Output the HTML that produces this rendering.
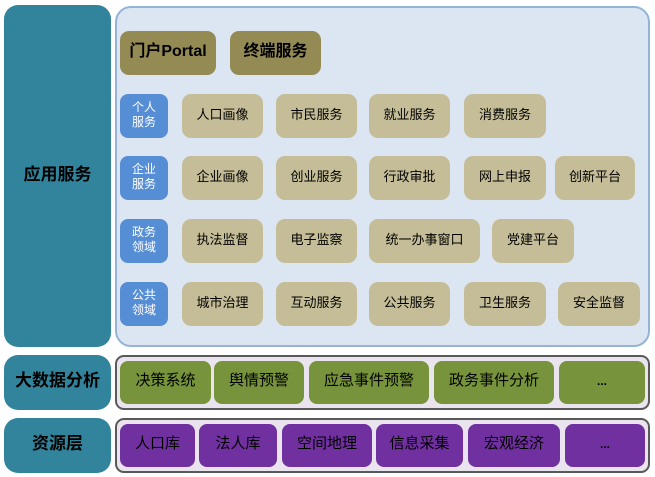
<!DOCTYPE html>
<html><head><meta charset="utf-8"><style>
body{margin:0;width:655px;height:477px;background:#fff;position:relative;overflow:hidden;font-family:"Liberation Sans","Noto Sans CJK SC",sans-serif;}
div{position:absolute;box-sizing:border-box;display:flex;align-items:center;justify-content:center;text-align:center;line-height:1.1;padding-bottom:2px;}
.teal{background:#31849B;border-radius:14px;font-weight:bold;font-size:17px;color:#000;}
.t{background:#C4BD97;border-radius:9px;font-size:13px;color:#000;height:44px;}
.b{background:#558ED5;border-radius:8px;color:#fff;font-size:12px;line-height:15px;left:120px;width:48px;height:44px;}
.g{background:#77933C;border-radius:8px;font-size:15px;top:361px;height:43px;}
.p{background:#7030A0;border-radius:8px;font-size:15px;top:424px;height:43px;}
.o{background:#948A54;border-radius:9px;font-weight:bold;font-size:16px;top:31px;height:44px;}
.c{background:#E9E4EE;border:2px solid #595959;border-radius:9px;left:115px;width:535px;height:55px;}
.d{font-weight:bold;font-size:12px;}
</style></head><body>
<div class="teal" style="left:4px;top:5px;width:107px;height:342px;">应用服务</div>
<div style="left:115px;top:6px;width:535px;height:341px;background:#DCE6F2;border:2px solid #95B3D7;border-radius:16px;"></div>
<div class="o" style="left:120px;width:96px;">门户Portal</div>
<div class="o" style="left:230px;width:91px;">终端服务</div>

<div class="b" style="top:94px;">个人<br>服务</div>
<div class="t" style="top:94px;left:182px;width:81px;">人口画像</div>
<div class="t" style="top:94px;left:276px;width:81px;">市民服务</div>
<div class="t" style="top:94px;left:369px;width:81px;">就业服务</div>
<div class="t" style="top:94px;left:464px;width:82px;">消费服务</div>

<div class="b" style="top:156px;">企业<br>服务</div>
<div class="t" style="top:156px;left:182px;width:81px;">企业画像</div>
<div class="t" style="top:156px;left:276px;width:81px;">创业服务</div>
<div class="t" style="top:156px;left:369px;width:81px;">行政审批</div>
<div class="t" style="top:156px;left:464px;width:82px;">网上申报</div>
<div class="t" style="top:156px;left:555px;width:80px;">创新平台</div>

<div class="b" style="top:219px;">政务<br>领域</div>
<div class="t" style="top:219px;left:182px;width:81px;">执法监督</div>
<div class="t" style="top:219px;left:276px;width:81px;">电子监察</div>
<div class="t" style="top:219px;left:369px;width:111px;">统一办事窗口</div>
<div class="t" style="top:219px;left:492px;width:82px;">党建平台</div>

<div class="b" style="top:282px;">公共<br>领域</div>
<div class="t" style="top:282px;left:182px;width:81px;">城市治理</div>
<div class="t" style="top:282px;left:276px;width:81px;">互动服务</div>
<div class="t" style="top:282px;left:369px;width:81px;">公共服务</div>
<div class="t" style="top:282px;left:464px;width:82px;">卫生服务</div>
<div class="t" style="top:282px;left:558px;width:82px;">安全监督</div>

<div class="teal" style="left:4px;top:355px;width:107px;height:55px;">大数据分析</div>
<div class="c" style="top:355px;"></div>
<div class="g" style="left:120px;width:91px;">决策系统</div>
<div class="g" style="left:214px;width:90px;">舆情预警</div>
<div class="g" style="left:309px;width:120px;">应急事件预警</div>
<div class="g" style="left:434px;width:120px;">政务事件分析</div>
<div class="g d" style="left:559px;width:86px;">...</div>

<div class="teal" style="left:4px;top:418px;width:107px;height:55px;">资源层</div>
<div class="c" style="top:418px;"></div>
<div class="p" style="left:120px;width:75px;">人口库</div>
<div class="p" style="left:199px;width:78px;">法人库</div>
<div class="p" style="left:282px;width:90px;">空间地理</div>
<div class="p" style="left:376px;width:87px;">信息采集</div>
<div class="p" style="left:468px;width:92px;">宏观经济</div>
<div class="p d" style="left:565px;width:80px;">...</div>
</body></html>
